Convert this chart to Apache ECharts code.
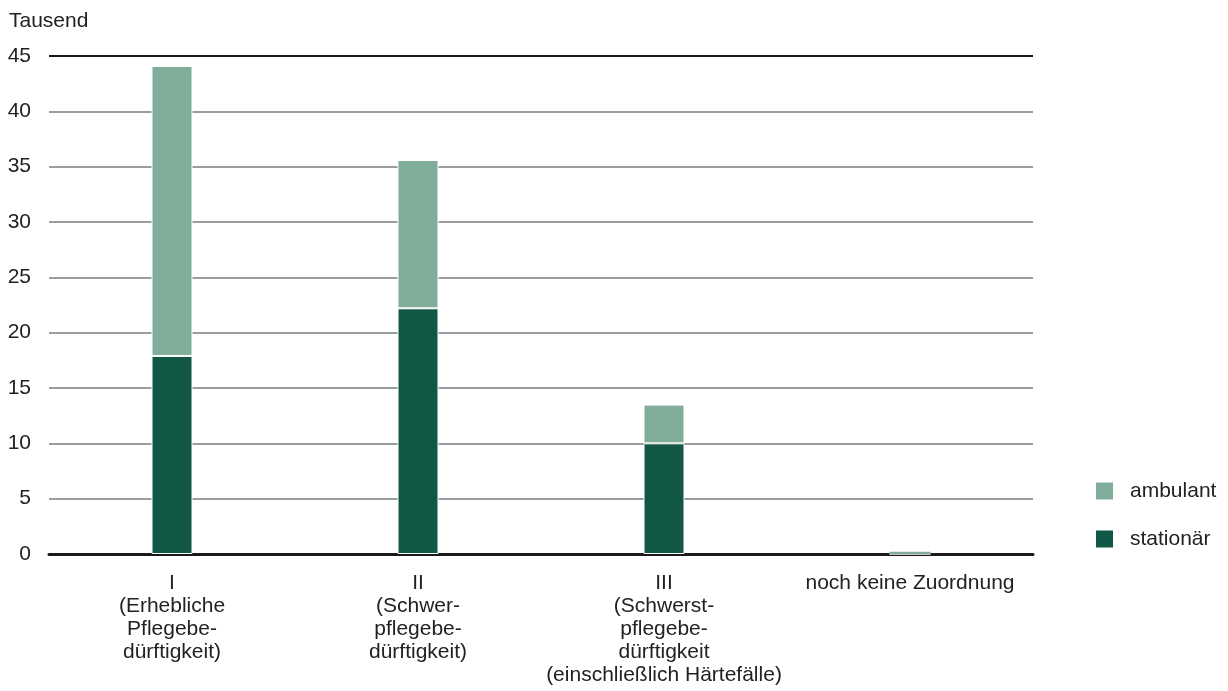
<!DOCTYPE html>
<html>
<head>
<meta charset="utf-8">
<script src="https://cdn.jsdelivr.net/npm/echarts@6/dist/echarts.min.js"></script>
<style>
  html, body { margin: 0; padding: 0; background: #fff; }
  #chart { width: 1228px; height: 691px; }
</style>
</head>
<body>
<div id="chart"></div>
<script>
// Pflegestufen
const categories = [
  'I\n(Erhebliche\nPflegebe-\ndürftigkeit)',
  'II\n(Schwer-\npflegebe-\ndürftigkeit)',
  'III\n(Schwerst-\npflegebe-\ndürftigkeit\n(einschließlich Härtefälle)',
  'noch keine Zuordnung'
]
// Tausend
const stationaer = [17.9, 22.2, 10.0, 0]
const ambulant = [26.2, 13.4, 3.5, 0.2]

const chart = echarts.init(document.getElementById('chart'))

const font = 'Liberation Sans, Arial, sans-serif'
const textColor = '#222'

// sehr kleine Werte ohne weißen Rand, sonst verschwinden sie
const ambulantData = ambulant.map(v => v < 0.5
  ? { value: v, itemStyle: { borderWidth: 0 } }
  : v)

const option = {
  animation: false,
  textStyle: { fontFamily: font },
  grid: { left: 49, right: 195, top: 56, bottom: 137 },
  legend: {
    orient: 'vertical',
    left: 1089,
    top: 475,
    itemWidth: 19,
    itemHeight: 19,
    itemGap: 26,
    icon: 'rect',
    data: ['ambulant', 'stationär'],
    textStyle: { fontSize: 21, lineHeight: 19, color: textColor, fontFamily: font, padding: [3, 0, 0, 11] }
  },
  xAxis: {
    type: 'category',
    data: categories,
    axisLine: { lineStyle: { color: '#1a1a1a', width: 3 } },
    axisTick: { show: false },
    axisLabel: {
      color: textColor,
      fontSize: 21,
      lineHeight: 23,
      margin: 18,
      interval: 0,
      fontFamily: font
    }
  },
  yAxis: {
    type: 'value',
    min: 0,
    max: 45,
    interval: 5,
    name: 'Tausend',
    nameLocation: 'end',
    nameGap: 24,
    nameTextStyle: { align: 'left', color: textColor, fontSize: 21, fontFamily: font, padding: [0, 0, 0, -40] },
    axisLine: { show: false },
    axisTick: { show: false },
    axisLabel: { color: textColor, fontSize: 21, margin: 18, fontFamily: font },
    splitLine: { lineStyle: { color: '#9a9c9e', width: 2 } }
  },
  series: [
    {
      name: 'stationär',
      type: 'bar',
      stack: 'a',
      barWidth: 41,
      data: stationaer,
      itemStyle: { color: '#115746', borderColor: '#fff', borderWidth: 1 }
    },
    {
      name: 'ambulant',
      type: 'bar',
      stack: 'a',
      barWidth: 41,
      data: ambulantData,
      itemStyle: { color: '#80ad9a', borderColor: '#fff', borderWidth: 1 },
      markLine: {
        silent: true,
        symbol: 'none',
        label: { show: false },
        lineStyle: { color: '#1a1a1a', width: 2, type: 'solid' },
        data: [{ yAxis: 45 }]
      }
    }
  ]
}

chart.setOption(option)
</script>
</body>
</html>
